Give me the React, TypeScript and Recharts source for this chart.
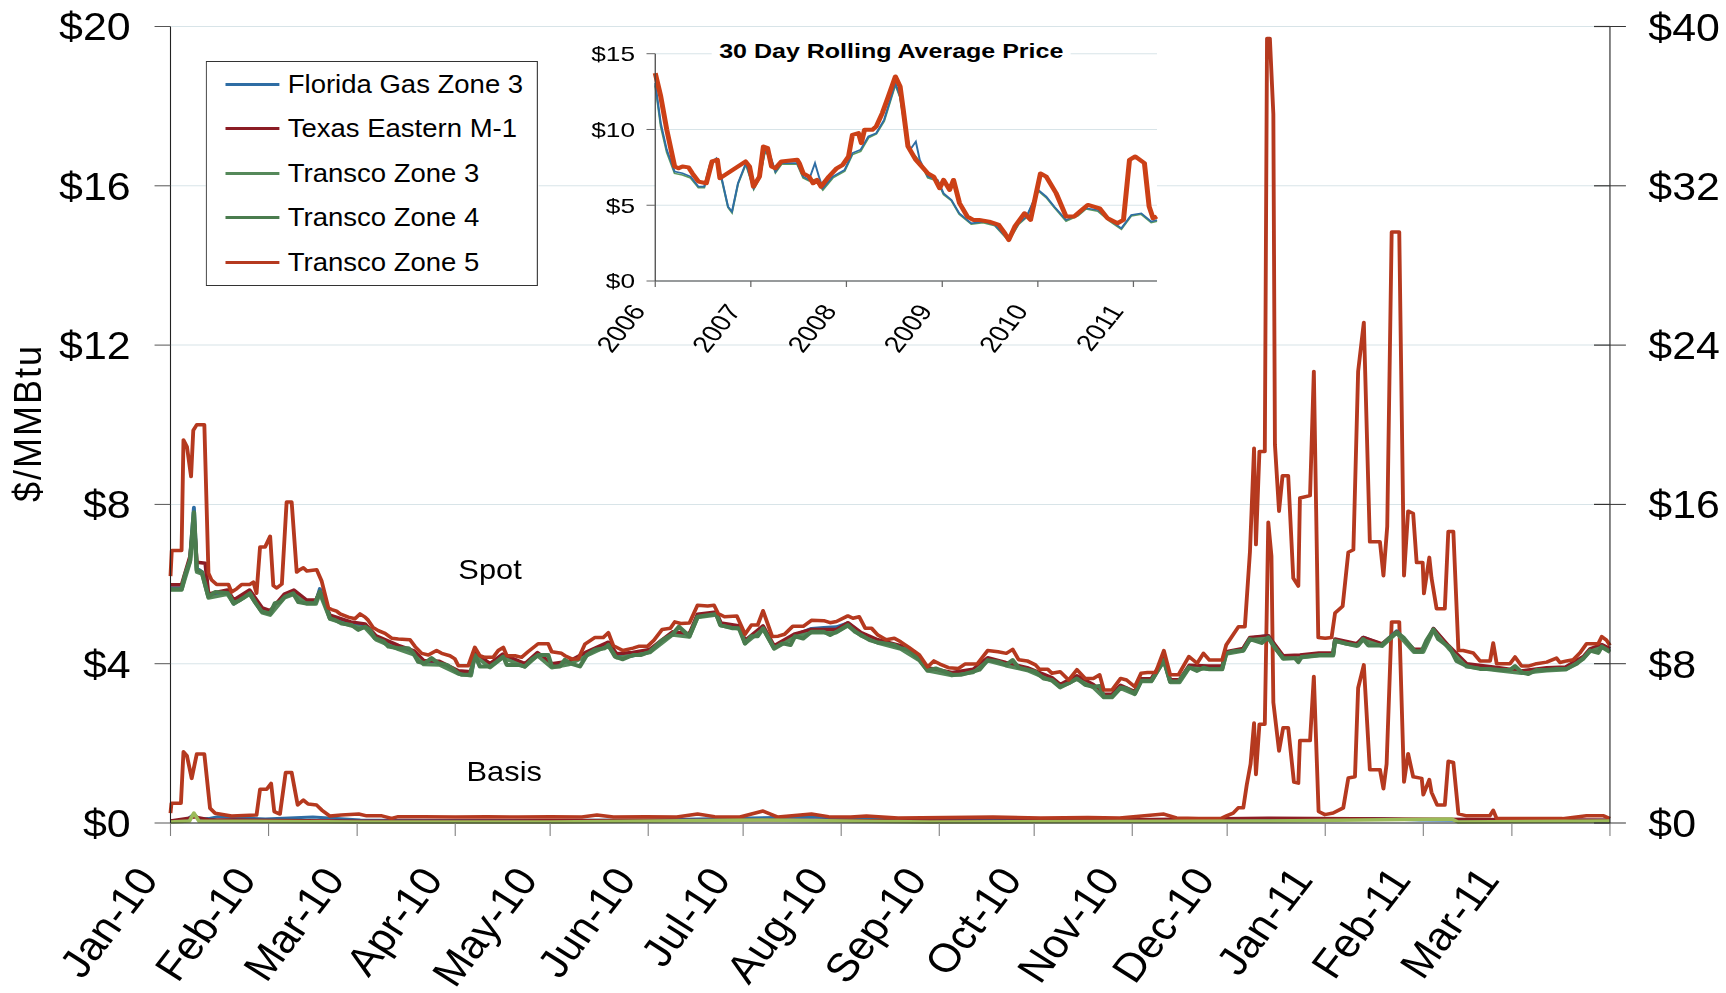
import type { ReactElement } from "react";
import { LineChart, Line, XAxis, YAxis, CartesianGrid, Legend } from "recharts";

type Pt = [number, number];

const FONT = '"Liberation Sans", Arial, Helvetica, sans-serif';

// x = days since 1 Jan 2010
const monthTicks = [0, 31, 59, 90, 120, 151, 181, 212, 243, 273, 304, 334, 365, 396, 424, 455];
const monthLabels = ["Jan-10", "Feb-10", "Mar-10", "Apr-10", "May-10", "Jun-10", "Jul-10", "Aug-10", "Sep-10", "Oct-10", "Nov-10", "Dec-10", "Jan-11", "Feb-11", "Mar-11", ""];
const leftTicks = [0, 4, 8, 12, 16, 20];
const rightTicks = [0, 8, 16, 24, 32, 40];

// inset: x = days since 1 Jan 2006
const yearTicks = [0, 365, 730, 1096, 1461, 1826];
const yearLabels = ["2006", "2007", "2008", "2009", "2010", "2011"];
const insetTicks = [0, 5, 10, 15];

// spot prices, $/MMBtu (left axis)
const floridaSpot: Pt[] = [
  [0, 5.9], [3.5, 5.9], [6.2, 6.65], [7.4, 7.92], [8.3, 6.4], [10, 6.3], [12, 5.7], [18, 5.78], [20, 5.5], [25, 5.78],
  [29, 5.3], [31.5, 5.24], [36, 5.7], [39, 5.78], [43, 5.52], [46, 5.55], [47.2, 5.88], [50.4, 5.14], [57, 4.99], [61.5, 4.93],
  [65, 4.62], [72, 4.4], [77, 4.26], [80, 4.02], [85, 4.0], [91, 3.76], [95, 3.72], [96.2, 4.22], [101, 3.95], [105, 4.18],
  [112, 3.95], [116, 4.22], [120.5, 3.95], [126, 4.0], [131.6, 4.25], [138.4, 4.5], [141, 4.18], [146, 4.2], [151.5, 4.32], [158.7, 4.76],
  [164, 4.7], [166.6, 5.22], [172.5, 5.28], [174, 4.98], [180, 4.9], [181.6, 4.52], [187.3, 4.92], [190.8, 4.4], [197.4, 4.72], [202.6, 4.88],
  [206.5, 4.9], [210.5, 4.92], [214.1, 5.02], [218.3, 4.76], [223.6, 4.55], [230.8, 4.4], [236.7, 4.1], [239.3, 3.85], [247, 3.74], [253.7, 3.8],
  [258.3, 4.1], [264, 3.98], [270.8, 3.86], [278.6, 3.6], [281.2, 3.44], [286.5, 3.65], [291.7, 3.44], [295, 3.2], [297.6, 3.19], [300.3, 3.42],
  [304.8, 3.27], [306.8, 3.58], [310, 3.58], [314, 4.1], [316, 3.56], [319, 3.56], [322, 3.92], [328, 3.9], [332.4, 3.9], [333.7, 4.28],
  [339, 4.36], [341.2, 4.64], [347, 4.7], [351.7, 4.16], [357, 4.18], [363, 4.25], [367.5, 4.25], [368.1, 4.6], [375, 4.48], [377, 4.66],
  [383, 4.48], [387.6, 4.82], [393, 4.33], [396, 4.33], [399.2, 4.88], [404, 4.42], [409.7, 3.96], [420, 3.86], [427, 3.8], [435, 3.86],
  [441, 3.9], [446.6, 4.16], [448.7, 4.35], [452.4, 4.45], [455, 4.36],
];

const texasSpot: Pt[] = [
  [0, 5.98], [3.5, 5.98], [6.2, 6.7], [7.4, 7.6], [8.3, 6.55], [11, 6.52], [12, 5.75], [18, 5.85], [20, 5.6], [25, 5.85],
  [29, 5.4], [31.5, 5.33], [36, 5.75], [39, 5.85], [43, 5.6], [46, 5.6], [47.2, 5.8], [50.4, 5.22], [57, 5.05], [61.5, 5.0],
  [65, 4.7], [72, 4.46], [77, 4.32], [80, 4.08], [85, 4.06], [91, 3.82], [95, 3.8], [96.2, 4.28], [101, 4.0], [105, 4.24],
  [112, 4.0], [116, 4.28], [120.5, 4.0], [126, 4.06], [131.6, 4.3], [138.4, 4.54], [141, 4.25], [146, 4.28], [151.5, 4.36], [158.7, 4.8],
  [164, 4.75], [166.6, 5.24], [172.5, 5.3], [174, 5.02], [180, 4.95], [181.6, 4.58], [187.3, 4.95], [190.8, 4.45], [197.4, 4.75], [202.6, 4.86],
  [206.5, 4.86], [210.5, 4.86], [214.1, 5.03], [218.3, 4.78], [223.6, 4.6], [230.8, 4.45], [236.7, 4.16], [239.3, 3.9], [247, 3.78], [253.7, 3.86],
  [258.3, 4.15], [264, 4.03], [270.8, 3.9], [278.6, 3.65], [281.2, 3.48], [286.5, 3.7], [291.7, 3.48], [295, 3.23], [297.6, 3.23], [300.3, 3.46],
  [304.8, 3.3], [306.8, 3.62], [310, 3.62], [314, 4.14], [316, 3.6], [319, 3.6], [322, 3.96], [328, 3.94], [332.4, 3.94], [333.7, 4.3],
  [339, 4.38], [341.2, 4.66], [347, 4.7], [351.7, 4.2], [357, 4.22], [363, 4.27], [367.5, 4.27], [368.1, 4.62], [375, 4.5], [377, 4.66],
  [383, 4.5], [387.6, 4.8], [393, 4.36], [396, 4.36], [399.2, 4.88], [404, 4.45], [409.7, 4.0], [420, 3.9], [427, 3.82], [435, 3.9],
  [441, 3.92], [446.6, 4.18], [448.7, 4.37], [452.4, 4.48], [455, 4.38],
];

const transco3Spot: Pt[] = [
  [0, 5.85], [3.5, 5.85], [6.2, 6.55], [7.4, 7.7], [8.3, 6.3], [10, 6.25], [12, 5.65], [18, 5.74], [20, 5.5], [25, 5.74],
  [29, 5.28], [31.5, 5.22], [36, 5.65], [39, 5.74], [43, 5.5], [46, 5.5], [47.2, 5.76], [50.4, 5.12], [57, 4.95], [61.5, 4.9],
  [65, 4.6], [72, 4.36], [77, 4.22], [80, 3.98], [85, 3.97], [91, 3.74], [95, 3.7], [96.2, 4.2], [101, 3.9], [105, 4.15],
  [112, 3.92], [116, 4.2], [120.5, 3.9], [126, 3.98], [131.6, 4.2], [138.4, 4.45], [141, 4.15], [146, 4.2], [151.5, 4.28], [158.7, 4.72],
  [164, 4.67], [166.6, 5.16], [172.5, 5.22], [174, 4.95], [180, 4.87], [181.6, 4.5], [187.3, 4.87], [190.8, 4.37], [197.4, 4.67], [202.6, 4.78],
  [206.5, 4.78], [210.5, 4.78], [214.1, 4.95], [218.3, 4.7], [223.6, 4.52], [230.8, 4.37], [236.7, 4.08], [239.3, 3.82], [247, 3.7], [253.7, 3.78],
  [258.3, 4.07], [264, 3.95], [270.8, 3.83], [278.6, 3.57], [281.2, 3.4], [286.5, 3.61], [291.7, 3.4], [295, 3.15], [297.6, 3.15], [300.3, 3.38],
  [304.8, 3.23], [306.8, 3.55], [310, 3.55], [314, 4.07], [316, 3.53], [319, 3.53], [322, 3.89], [328, 3.86], [332.4, 3.86], [333.7, 4.24],
  [339, 4.32], [341.2, 4.6], [347, 4.64], [351.7, 4.12], [357, 4.15], [363, 4.2], [367.5, 4.2], [368.1, 4.56], [375, 4.44], [377, 4.6],
  [383, 4.44], [387.6, 4.77], [393, 4.29], [396, 4.29], [399.2, 4.84], [404, 4.38], [409.7, 3.92], [420, 3.82], [427, 3.76], [435, 3.82],
  [441, 3.85], [446.6, 4.12], [448.7, 4.31], [452.4, 4.41], [455, 4.29],
];

const transco4Spot: Pt[] = [
  [0, 5.87], [3.5, 5.87], [4.6, 6.23], [6.2, 6.6], [7.4, 7.8], [8.3, 6.35], [9.9, 6.3], [12, 5.68], [14.1, 5.8], [18.3, 5.77],
  [19.9, 5.52], [22, 5.6], [23.5, 5.68], [25.1, 5.77], [26.7, 5.55], [28.8, 5.31], [31.5, 5.26], [33, 5.52], [34.6, 5.55], [36.2, 5.68],
  [38.8, 5.77], [40.4, 5.55], [42.5, 5.52], [45.7, 5.52], [47.2, 5.81], [48.8, 5.52], [50.4, 5.14], [52, 5.1], [54.1, 5.01], [57.3, 4.97],
  [59.4, 4.85], [61.5, 4.93], [63, 4.85], [64.6, 4.64], [67.3, 4.56], [68.9, 4.43], [72, 4.39], [75.2, 4.39], [76.8, 4.26], [78.3, 4.05],
  [80.4, 4.01], [82.5, 4.14], [84.7, 4.01], [87.3, 3.97], [88.9, 3.89], [91, 3.76], [92, 3.72], [94.7, 3.72], [96.2, 4.22], [97.8, 3.93],
  [101, 3.93], [103.1, 4.05], [105.2, 4.18], [106.3, 3.97], [110, 3.97], [112, 3.93], [114.1, 4.1], [116.3, 4.22], [119.4, 4.22], [120.5, 3.93],
  [123.1, 3.93], [124.7, 4.1], [126.3, 4.01], [129.4, 3.93], [131.6, 4.22], [134.2, 4.35], [137.3, 4.39], [138.4, 4.47], [140.5, 4.18], [143, 4.11],
  [146.2, 4.22], [148.8, 4.22], [151.5, 4.3], [155.4, 4.59], [158.7, 4.74], [160.7, 4.93], [164, 4.69], [166.6, 5.18], [169.8, 5.22], [172.5, 5.25],
  [173.8, 4.97], [177.7, 4.89], [179.7, 4.89], [181.6, 4.51], [183.6, 4.69], [185.6, 4.69], [187.3, 4.89], [190.8, 4.39], [193.4, 4.51], [196, 4.47],
  [197.4, 4.69], [200, 4.63], [202.6, 4.8], [206.5, 4.8], [208.5, 4.72], [210.5, 4.8], [214.1, 4.97], [216.4, 4.8], [218.3, 4.72], [221, 4.59],
  [223.6, 4.53], [226.2, 4.51], [228.8, 4.47], [230.8, 4.39], [233.4, 4.35], [236.7, 4.1], [239.3, 3.83], [241.9, 3.88], [244.5, 3.81], [247.2, 3.72],
  [249.8, 3.72], [253.7, 3.8], [255.7, 3.85], [258.3, 4.09], [261.6, 4.05], [264.2, 3.97], [266.2, 4.09], [268.1, 3.9], [270.8, 3.85], [273.4, 3.8],
  [276, 3.63], [278.6, 3.59], [281.2, 3.42], [283.9, 3.51], [286.5, 3.63], [289.1, 3.47], [291.7, 3.42], [293.7, 3.44], [295, 3.17], [297.6, 3.17],
  [300.3, 3.4], [302.2, 3.38], [304.8, 3.25], [306.8, 3.57], [310.1, 3.57], [314, 4.09], [316, 3.55], [318.6, 3.55], [321.9, 3.91], [324.5, 3.82],
  [326.5, 3.9], [328.4, 3.86], [332.4, 3.86], [333.7, 4.26], [335.9, 4.31], [339.1, 4.33], [341.2, 4.62], [344.9, 4.52], [347, 4.66], [349.1, 4.4],
  [351.7, 4.14], [355.4, 4.14], [356.5, 4.04], [357.5, 4.17], [361.2, 4.2], [363.3, 4.22], [367.5, 4.22], [368.1, 4.58], [371.8, 4.5], [375.4, 4.46],
  [377, 4.62], [378.6, 4.46], [382.8, 4.46], [385.5, 4.66], [387.6, 4.79], [389.7, 4.66], [391.8, 4.46], [393.4, 4.31], [395.5, 4.31], [397, 4.58],
  [399.2, 4.86], [400.7, 4.62], [404.4, 4.4], [406.5, 4.07], [409.7, 3.94], [413.9, 3.87], [417.1, 3.87], [420.2, 3.84], [423.4, 3.84], [425, 3.94],
  [427.1, 3.78], [429.2, 3.74], [431.8, 3.84], [435, 3.84], [438.1, 3.87], [441.3, 3.87], [444.5, 4.0], [446.6, 4.14], [448.7, 4.33], [451.3, 4.27],
  [452.4, 4.43], [455, 4.31],
];

const transco5Spot: Pt[] = [
  [0, 6.2], [0.4, 6.84], [3.5, 6.84], [4.1, 9.62], [5.2, 9.45], [6.5, 8.7], [7.2, 9.86], [8.3, 10.0], [10.7, 10.0], [12, 6.27],
  [13, 6.1], [14.6, 5.99], [18.3, 5.99], [19.3, 5.8], [20.9, 5.88], [22.5, 5.99], [25.1, 5.99], [26.2, 6.05], [27.2, 5.77], [28.3, 6.93],
  [29.9, 6.93], [31.5, 7.2], [32.5, 5.96], [33.6, 5.9], [35.2, 6.0], [36.7, 8.06], [38.3, 8.06], [39.9, 6.3], [40.9, 6.36], [42, 6.41],
  [43.1, 6.33], [46.2, 6.36], [47.8, 6.07], [49.9, 5.4], [51, 5.36], [52.5, 5.32], [53.6, 5.25], [56.2, 5.17], [58.3, 5.13], [59.9, 5.25],
  [61.5, 5.17], [62.5, 5.09], [64, 4.91], [65.7, 4.83], [67.8, 4.76], [69.9, 4.64], [72, 4.62], [75.7, 4.6], [77.3, 4.43], [79.4, 4.26],
  [81.5, 4.22], [84.1, 4.33], [85.7, 4.26], [88.3, 4.2], [89.9, 4.12], [91, 3.95], [94.1, 3.95], [96.2, 4.41], [97.8, 4.2], [99.4, 4.16],
  [102, 4.16], [103.6, 4.33], [105.2, 4.41], [106.3, 4.2], [108.9, 4.2], [111, 4.16], [113, 4.3], [116.2, 4.5], [119.4, 4.5], [120.5, 4.3],
  [123.6, 4.26], [124.7, 4.2], [126.8, 4.12], [128.9, 4.12], [131, 4.49], [134.2, 4.66], [136.8, 4.66], [138.4, 4.78], [140, 4.45], [143, 4.33],
  [146.2, 4.39], [148.2, 4.44], [150.8, 4.44], [152.8, 4.59], [155.4, 4.86], [158, 4.89], [159.4, 5.05], [161.3, 5.01], [164, 5.02], [166.6, 5.47],
  [169.8, 5.45], [171.8, 5.47], [173.1, 5.26], [175.1, 5.18], [179, 5.2], [181.6, 4.74], [183.6, 4.97], [185.6, 4.97], [187.3, 5.33], [190.2, 4.68],
  [192.1, 4.69], [194.1, 4.74], [196.7, 4.94], [200, 4.94], [202.6, 5.09], [206.5, 5.08], [208.5, 5.03], [210.5, 5.06], [214.1, 5.2], [215.7, 5.14],
  [217.7, 5.18], [219.6, 4.89], [221.6, 4.89], [223.6, 4.72], [226.2, 4.6], [228.8, 4.64], [230.8, 4.55], [233.4, 4.41], [236.7, 4.22], [239.3, 3.92],
  [241.3, 4.07], [243.2, 3.99], [245.9, 3.9], [249.1, 3.88], [251.1, 3.99], [255, 3.99], [258.3, 4.33], [261.6, 4.3], [264.2, 4.26], [266.2, 4.36],
  [268.1, 4.1], [270.8, 4.07], [273.4, 3.97], [274.7, 3.86], [277.3, 3.86], [278.6, 3.76], [281.2, 3.8], [283.9, 3.59], [286.5, 3.85], [289.1, 3.63],
  [291.7, 3.63], [293.7, 3.72], [295, 3.34], [297.6, 3.34], [300.3, 3.63], [302.2, 3.59], [304.8, 3.42], [306.8, 3.76], [308.8, 3.78], [311.4, 3.78],
  [314, 4.33], [316, 3.72], [318.6, 3.72], [321.9, 4.18], [324.5, 4.01], [326.5, 4.26], [328.4, 4.09], [332.4, 4.09], [333.7, 4.47], [337.6, 4.93],
  [339.6, 4.93], [341.2, 6.8], [342.5, 9.41], [343.1, 6.99], [344.2, 9.33], [345.9, 9.33], [346.6, 19.7], [347.5, 19.7], [348.6, 17.8], [349.1, 9.5],
  [350.4, 7.83], [351.5, 8.72], [353.3, 8.72], [354.9, 6.15], [356.5, 5.95], [357, 8.16], [360.2, 8.22], [361.4, 11.34], [362.8, 4.66], [365, 4.64],
  [367, 4.66], [368.1, 5.27], [370.5, 5.44], [372.3, 6.8], [373.9, 6.86], [375.4, 11.34], [377.2, 12.57], [379.1, 7.06], [382.3, 7.06], [383.4, 6.21],
  [384.6, 7.45], [386, 14.84], [388.4, 14.84], [389.9, 6.21], [391.2, 7.83], [392.8, 7.77], [393.9, 6.54], [395.8, 6.54], [396.2, 5.76], [397.9, 6.67],
  [398.6, 6.15], [400.2, 5.38], [402.8, 5.38], [403.9, 7.32], [405.5, 7.32], [407.1, 4.33], [408.6, 4.33], [411.8, 4.27], [413.9, 4.07], [417.1, 4.07],
  [418.1, 4.52], [419.2, 4.0], [423.4, 4.0], [425, 4.17], [427.1, 3.94], [429.2, 3.94], [431.8, 4.0], [435, 4.04], [438.1, 4.14], [439.2, 4.03],
  [441.3, 4.07], [443.4, 4.1], [445.5, 4.27], [447.6, 4.5], [451.3, 4.5], [452.4, 4.68], [453.9, 4.59], [455, 4.46],
];

// basis, $/MMBtu (right axis)
const floridaBasis: Pt[] = [
  [0, 0.1], [5, 0.15], [7.4, 0.45], [9, 0.2], [12, 0.22], [15, 0.32], [30, 0.2], [45, 0.3], [60, 0.15], [90, 0.12],
  [150, 0.15], [200, 0.3], [230, 0.2], [270, 0.12], [330, 0.15], [360, 0.2], [380, 0.22], [395, 0.15], [420, 0.12], [455, 0.15],
];
const texasBasis: Pt[] = [
  [0, 0.12], [8, 0.3], [12, 0.18], [60, 0.1], [120, 0.12], [190, 0.15], [260, 0.1], [347, 0.25], [400, 0.2], [455, 0.15],
];
const transco3Basis: Pt[] = [
  [0, 0.05], [6, 0.1], [7.4, 0.5], [9, 0.1], [60, 0.05], [120, 0.05], [187, 0.15], [240, 0.05], [345, 0.1], [405, 0.2],
  [407, 0.05], [455, 0.1],
];
const transco5Basis: Pt[] = [
  [0, 0.5], [0.3, 0.99], [3.3, 0.99], [4.1, 3.58], [5.2, 3.37], [6.7, 2.24], [8.3, 3.46], [10.7, 3.46], [12.5, 0.74], [14.1, 0.49],
  [19.3, 0.35], [25.1, 0.39], [27.2, 0.4], [28.3, 1.69], [30.4, 1.69], [31.8, 1.99], [32.8, 0.57], [34.6, 0.45], [36.4, 2.53], [38.3, 2.53],
  [40.2, 0.9], [42, 1.15], [43.5, 0.95], [46.2, 0.9], [47.8, 0.65], [50.4, 0.35], [54, 0.4], [59.5, 0.45], [62, 0.36], [66.8, 0.36],
  [69.9, 0.23], [72, 0.32], [80, 0.32], [90, 0.3], [100, 0.32], [110, 0.3], [120, 0.32], [130, 0.3], [134.8, 0.4], [140, 0.3],
  [150, 0.32], [160, 0.3], [166.6, 0.45], [172, 0.32], [180, 0.3], [187.3, 0.6], [192, 0.3], [202.6, 0.45], [208, 0.32], [215, 0.3],
  [220, 0.35], [230, 0.25], [245, 0.28], [260, 0.3], [275, 0.25], [290, 0.27], [300, 0.25], [314, 0.45], [318, 0.25], [325, 0.22],
  [332, 0.22], [333.8, 0.36], [335.9, 0.5], [337.5, 0.76], [339.1, 0.76], [340.2, 1.92], [341.4, 2.96], [342.5, 5.02], [343.1, 2.44], [344.2, 4.96],
  [345.9, 4.96], [347, 15.1], [348, 13.4], [348.6, 6.06], [350.4, 3.62], [351.7, 4.78], [353.3, 4.78], [355.1, 2.06], [356.5, 2.0], [357, 4.14],
  [360.2, 4.14], [361.4, 7.36], [362.9, 0.58], [364.9, 0.42], [367.5, 0.5], [370.7, 0.76], [372.3, 2.26], [374.4, 2.32], [375.4, 6.78], [377.2, 7.94],
  [379.1, 2.68], [382.3, 2.68], [383.4, 1.72], [384.4, 2.96], [386, 10.1], [388.4, 10.1], [389.9, 2.06], [391.2, 3.48], [392.8, 2.32], [395.5, 2.24],
  [396, 1.42], [397.9, 2.18], [398.6, 1.54], [400.4, 0.9], [402.8, 0.9], [403.9, 3.1], [405.5, 3.04], [407.1, 0.46], [409.7, 0.36], [417, 0.36],
  [418.1, 0.64], [419.2, 0.22], [430, 0.22], [440, 0.22], [447.6, 0.36], [453, 0.36], [455, 0.22],
];

// 30 day rolling average, $/MMBtu
const insetFlorida: Pt[] = [
  [0, 13.06], [21, 10.42], [44, 8.66], [74, 7.22], [104, 7.11], [135, 6.89], [165, 6.23], [187, 6.23], [210, 7.78], [233, 8.1],
  [255, 6.67], [278, 4.91], [293, 4.58], [316, 6.45], [346, 7.78], [376, 6.12], [399, 6.89], [418, 8.55], [436, 8.44], [459, 7.22],
  [482, 7.78], [542, 7.78], [565, 6.89], [587, 6.67], [610, 7.78], [625, 6.89], [640, 6.12], [678, 6.89], [723, 7.33], [753, 8.44],
  [784, 8.66], [814, 9.54], [844, 9.76], [874, 10.64], [917, 13.06], [935, 12.18], [950, 10.64], [973, 8.66], [995, 9.2], [1010, 8.0],
  [1041, 6.89], [1078, 6.67], [1101, 5.79], [1131, 5.35], [1161, 4.47], [1207, 3.81], [1252, 3.92], [1297, 3.7], [1350, 2.71], [1388, 3.81],
  [1418, 4.25], [1463, 6.01], [1493, 5.57], [1524, 4.91], [1569, 4.03], [1614, 4.36], [1645, 4.8], [1690, 4.69], [1735, 4.03], [1780, 3.48],
  [1818, 4.36], [1856, 4.47], [1894, 3.92], [1916, 4.03],
];
const insetTransco: Pt[] = [
  [0, 12.9], [21, 10.2], [44, 8.5], [74, 7.1], [104, 7.0], [135, 6.8], [165, 6.15], [187, 6.15], [210, 7.7], [233, 8.0],
  [255, 6.6], [278, 4.85], [293, 4.5], [316, 6.4], [346, 7.7], [376, 6.05], [399, 6.8], [418, 8.45], [436, 8.35], [459, 7.15],
  [482, 7.7], [542, 7.7], [565, 6.8], [587, 6.6], [610, 6.7], [640, 6.0], [678, 6.8], [723, 7.25], [753, 8.35], [784, 8.55],
  [814, 9.45], [844, 9.7], [874, 10.55], [917, 12.95], [935, 12.1], [950, 10.5], [973, 8.55], [995, 8.2], [1010, 7.9], [1041, 6.8],
  [1078, 6.6], [1101, 5.7], [1131, 5.3], [1161, 4.4], [1207, 3.75], [1252, 3.85], [1297, 3.65], [1350, 2.65], [1388, 3.75], [1418, 4.2],
  [1463, 5.95], [1493, 5.5], [1524, 4.85], [1569, 3.95], [1614, 4.3], [1645, 4.75], [1690, 4.6], [1735, 3.95], [1780, 3.42], [1818, 4.3],
  [1856, 4.4], [1894, 3.85], [1916, 3.95],
];
const insetTransco5: Pt[] = [
  [0, 13.72], [21, 12.18], [44, 9.98], [74, 7.56], [89, 7.44], [104, 7.56], [127, 7.5], [142, 7.1], [165, 6.56], [195, 6.45],
  [217, 7.89], [237, 8.0], [247, 6.78], [345, 7.89], [360, 7.56], [375, 6.23], [398, 6.89], [413, 8.88], [429, 8.77], [444, 7.56],
  [459, 7.44], [482, 7.89], [542, 8.0], [550, 7.78], [565, 7.1], [587, 6.89], [603, 6.45], [618, 6.67], [633, 6.23], [663, 6.89],
  [693, 7.44], [716, 7.67], [738, 8.22], [753, 9.65], [776, 9.76], [787, 9.1], [799, 9.98], [829, 9.98], [844, 10.2], [867, 11.08],
  [890, 12.18], [917, 13.5], [935, 12.84], [947, 11.3], [965, 8.88], [995, 8.0], [1041, 7.1], [1063, 6.89], [1086, 6.12], [1101, 6.67],
  [1124, 6.01], [1139, 6.67], [1162, 5.13], [1192, 4.25], [1214, 4.03], [1237, 4.03], [1275, 3.92], [1312, 3.7], [1335, 3.15], [1350, 2.71],
  [1373, 3.59], [1410, 4.47], [1433, 4.03], [1471, 7.1], [1493, 6.89], [1531, 5.79], [1569, 4.25], [1599, 4.25], [1629, 4.69], [1652, 5.02],
  [1697, 4.8], [1727, 4.14], [1765, 3.81], [1788, 4.03], [1811, 8.0], [1833, 8.22], [1868, 7.78], [1886, 4.91], [1901, 4.14], [1916, 4.25],
];

const rows = (pts: Pt[], key: string) => pts.map(([d, v]) => ({ d, [key]: v }));

// the original picture is stretched sideways; draw narrow and scale
const SX = 1.1;
const INSET_SX = 1.25;

function MonthTick({ x, y, payload }: any): ReactElement {
  const label = monthLabels[monthTicks.indexOf(payload.value)] ?? "";
  const ax = x - 10;
  const ay = y - 13 + 57;
  return (
    <text x={ax} y={ay} transform={`rotate(-55 ${ax} ${ay})`} textAnchor="end" fontSize={40} fontFamily={FONT} fill="#000">
      {label}
    </text>
  );
}

function RightTick({ x, y, payload }: any): ReactElement {
  const axisX = x - 14.5 - 20.4;
  return (
    <g>
      <line x1={axisX - 14.5} x2={axisX} y1={y} y2={y} stroke="#333" strokeWidth={1.2} />
      <text x={x} y={y} dy="0.36em" textAnchor="start" fontSize={39} fontFamily={FONT} fill="#000">
        {`$${payload.value}`}
      </text>
    </g>
  );
}

function YearTick({ x, y, payload }: any): ReactElement {
  const label = yearLabels[yearTicks.indexOf(payload.value)] ?? "";
  const ax = x - 7;
  const ay = y - 6 + 30;
  return (
    <text x={ax} y={ay} transform={`rotate(-57 ${ax} ${ay})`} textAnchor="end" fontSize={23} fontFamily={FONT} fill="#000">
      {label}
    </text>
  );
}

function renderLegend(props: any): ReactElement {
  const items = (props.payload || []).filter((p: any) => p.type !== "none");
  return (
    <div style={{ border: "1.5px solid #333", background: "#fff", width: 302, height: 225, boxSizing: "border-box", fontFamily: FONT }}>
      {items.map((it: any) => (
        <div key={it.value} style={{ display: "flex", alignItems: "center", height: 44.5, paddingLeft: 16.5 }}>
          <span style={{ display: "inline-block", width: 49.5, height: 3, background: it.color, marginRight: 7.6 }} />
          <span style={{ fontSize: 25, color: "#000", lineHeight: 1 }}>{it.value}</span>
        </div>
      ))}
    </div>
  );
}

function Inset(): ReactElement {
  return (
    <div style={{ position: "absolute", left: 560, top: 30, width: 500, height: 350, transform: `scaleX(${INSET_SX})`, transformOrigin: "0 0" }}>
      <LineChart width={500} height={350} margin={{ top: 23.7, right: 22.4, bottom: 0, left: 0 }}>
        <CartesianGrid vertical={false} stroke="#d8e4e8" fill="#fff" />
        <XAxis type="number" dataKey="d" domain={[0, 1916]} ticks={yearTicks} interval={0} height={99}
          tickSize={6} tickMargin={0} tick={<YearTick />} stroke="#444" tickLine={{ stroke: "#666" }} />
        <YAxis domain={[0, 15]} ticks={insetTicks} width={76.2} tickSize={7} tickMargin={9.2}
          tickFormatter={(v: number) => `$${v}`} stroke="#444" tickLine={{ stroke: "#666" }}
          tick={{ fontSize: 21, fill: "#000", fontFamily: FONT }} />
        <Line data={rows(insetTransco, "t")} dataKey="t" stroke="#5b9a5e" strokeWidth={1.6} dot={false} isAnimationActive={false} />
        <Line data={rows(insetFlorida, "f")} dataKey="f" stroke="#2e6da4" strokeWidth={1.6} dot={false} isAnimationActive={false} />
        <Line data={rows(insetTransco5, "z")} dataKey="z" stroke="#cc4016" strokeWidth={4} dot={false} isAnimationActive={false} strokeLinejoin="round" />
      </LineChart>
      <div style={{ position: "absolute", left: 265, top: 8.7, transform: "translateX(-50%)", background: "#fff", padding: "0 6px",
        fontFamily: FONT, fontWeight: "bold", fontSize: 20, lineHeight: "24px", whiteSpace: "nowrap", color: "#000" }}>
        30 Day Rolling Average Price
      </div>
    </div>
  );
}

export default function App(): ReactElement {
  const line = { dot: false, isAnimationActive: false, strokeLinejoin: "round" as const };
  return (
    <div style={{ position: "absolute", left: 0, top: 0, width: 1726, height: 993, background: "#fff", overflow: "hidden" }}>
      <div style={{ position: "absolute", left: 0, top: 0, width: 1569, height: 993, transform: `scaleX(${SX})`, transformOrigin: "0 0" }}>
        <LineChart width={1569} height={993} margin={{ top: 26.5, right: 0, bottom: 0, left: 0 }}>
          <CartesianGrid yAxisId="left" vertical={false} stroke="#d8e4e8" />
          <XAxis type="number" dataKey="d" domain={[0, 455]} ticks={monthTicks} interval={0} height={170}
            tickSize={13} tickMargin={0} tick={<MonthTick />} stroke="#222" tickLine={{ stroke: "#808080" }} />
          <YAxis yAxisId="left" domain={[0, 20]} ticks={leftTicks} width={155} tickSize={14.5} tickMargin={21.7}
            tickFormatter={(v: number) => `$${v}`} stroke="#222" tickLine={{ stroke: "#555" }}
            tick={{ fontSize: 39, fill: "#000", fontFamily: FONT }} />
          <YAxis yAxisId="right" orientation="right" domain={[0, 40]} ticks={rightTicks} width={105.4} tickSize={14.5} tickMargin={20.4}
            stroke="#222" tickLine={{ stroke: "#333" }} tick={<RightTick />} />
          <Line yAxisId="right" data={rows(floridaBasis, "fb")} dataKey="fb" legendType="none" stroke="#2e6da4" strokeWidth={3} {...line} />
          <Line yAxisId="right" data={rows(texasBasis, "tb")} dataKey="tb" legendType="none" stroke="#8b1c24" strokeWidth={3} {...line} />
          <Line yAxisId="right" data={rows(transco5Basis, "z5b")} dataKey="z5b" legendType="none" stroke="#b5391f" strokeWidth={3.5} {...line} />
          <Line yAxisId="right" data={rows(transco3Basis, "t3b")} dataKey="t3b" legendType="none" stroke="#9bbb59" strokeWidth={3.5} {...line} />
          <Line yAxisId="left" data={rows(floridaSpot, "fl")} dataKey="fl" name="Florida Gas Zone 3" stroke="#2e6da4" strokeWidth={3.5} {...line} />
          <Line yAxisId="left" data={rows(texasSpot, "te")} dataKey="te" name="Texas Eastern M-1" stroke="#8b1c24" strokeWidth={3.5} {...line} />
          <Line yAxisId="left" data={rows(transco3Spot, "t3")} dataKey="t3" name="Transco Zone 3" stroke="#55895a" strokeWidth={3.5} {...line} />
          <Line yAxisId="left" data={rows(transco4Spot, "t4")} dataKey="t4" name="Transco Zone 4" stroke="#4a7c4e" strokeWidth={4} {...line} />
          <Line yAxisId="left" data={rows(transco5Spot, "t5")} dataKey="t5" name="Transco Zone 5" stroke="#b5391f" strokeWidth={3.5} {...line} />
          <Legend layout="vertical" align="center" verticalAlign="middle" content={renderLegend}
            wrapperStyle={{ left: 187, top: 61, width: 302, height: 225 }} />
        </LineChart>
        <div style={{ position: "absolute", left: 25, top: 422.5, transform: "translate(-50%, -50%) rotate(-90deg)", whiteSpace: "nowrap",
          fontFamily: FONT, fontSize: 36, letterSpacing: 2, color: "#000" }}>
          $/MMBtu
        </div>
        <div style={{ position: "absolute", left: 395.5, top: 554.3, width: 100, textAlign: "center", fontFamily: FONT, fontSize: 28, lineHeight: "32px" }}>Spot</div>
        <div style={{ position: "absolute", left: 408.4, top: 756, width: 100, textAlign: "center", fontFamily: FONT, fontSize: 28, lineHeight: "32px" }}>Basis</div>
      </div>
      <Inset />
    </div>
  );
}
